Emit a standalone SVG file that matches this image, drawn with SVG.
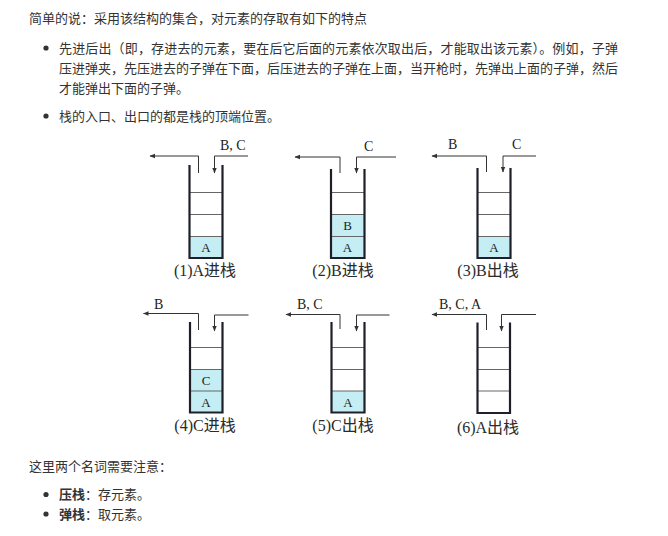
<svg xmlns="http://www.w3.org/2000/svg" width="668" height="536" viewBox="0 0 668 536">
<style>
.t{font-family:"Noto Sans CJK SC","Noto Sans",sans-serif;font-size:13px;fill:#333}
.b{font-weight:bold}
.wall{fill:none;stroke:#1f1f2a;stroke-width:2.2}
.cell{stroke:#666;stroke-width:1}
.fill{fill:#c4eef3}
.arr{fill:none;stroke:#333;stroke-width:1}
.lab{font-family:"Liberation Serif","Noto Sans CJK SC",serif;font-size:14px;fill:#222}
.in{font-family:"Liberation Serif",serif;font-size:13px;fill:#222;text-anchor:middle}
.cap{font-family:"Liberation Serif","Noto Sans CJK SC",serif;font-size:16px;fill:#2a2a2a;text-anchor:middle}
</style>
<defs>
<marker id="ah" markerWidth="6" markerHeight="6" refX="5" refY="3" orient="auto" markerUnits="userSpaceOnUse">
<path d="M0,0.8 L5.5,3 L0,5.2 Z" fill="#333"/>
</marker>
</defs>
<rect width="668" height="536" fill="#fff"/>
<g id="intro">
<text class="t" x="29" y="23">简单的说：采用该结构的集合，对元素的存取有如下的特点</text>
<circle cx="46" cy="48" r="2.6" fill="#333"/>
<text class="t" x="59" y="52.5" textLength="559" lengthAdjust="spacing">先进后出（即，存进去的元素，要在后它后面的元素依次取出后，才能取出该元素）。例如，子弹</text>
<text class="t" x="59" y="73" textLength="559" lengthAdjust="spacing">压进弹夹，先压进去的子弹在下面，后压进去的子弹在上面，当开枪时，先弹出上面的子弹，然后</text>
<text class="t" x="59" y="92.5">才能弹出下面的子弹。</text>
<circle cx="46" cy="116" r="2.6" fill="#333"/>
<text class="t" x="59" y="120.5">栈的入口、出口的都是栈的顶端位置。</text>
</g>
<g id="connectors">
<path class="arr" d="M198.5,173 V156 H150" marker-end="url(#ah)"/>
<path class="arr" d="M248,156 H214.5 V173" marker-end="url(#ah)"/>
<path class="arr" d="M340,173 V157 H295" marker-end="url(#ah)"/>
<path class="arr" d="M396,157 H356.5 V173" marker-end="url(#ah)"/>
<path class="arr" d="M486.5,172 V156 H432" marker-end="url(#ah)"/>
<path class="arr" d="M536,156 H503 V172" marker-end="url(#ah)"/>
<path class="arr" d="M198.5,330 V313.5 H143.5" marker-end="url(#ah)"/>
<path class="arr" d="M248.5,315 H214.5 V331" marker-end="url(#ah)"/>
<path class="arr" d="M340,329 V314.5 H286" marker-end="url(#ah)"/>
<path class="arr" d="M389.5,315 H356.5 V331" marker-end="url(#ah)"/>
<path class="arr" d="M486.5,330 V314.5 H432" marker-end="url(#ah)"/>
<path class="arr" d="M536,314.5 H501.5 V331" marker-end="url(#ah)"/>
</g>
<g id="stack1">
<rect class="fill" x="189.5" y="236.5" width="33" height="21.5"/>
<line class="cell" x1="189.5" y1="192.5" x2="222.5" y2="192.5"/>
<line class="cell" x1="189.5" y1="214.5" x2="222.5" y2="214.5"/>
<line class="cell" x1="189.5" y1="236.5" x2="222.5" y2="236.5"/>
<path class="wall" d="M189.5,165 V258 H222.5 V165"/>
<text class="in" x="206" y="252">A</text>
<text class="lab" x="220" y="150">B, C</text>
<text class="cap" x="205" y="276">(1)A进栈</text>
</g>
<g id="stack2">
<rect class="fill" x="331" y="214.5" width="33.5" height="43.5"/>
<line class="cell" x1="331" y1="192.5" x2="364.5" y2="192.5"/>
<line class="cell" x1="331" y1="214.5" x2="364.5" y2="214.5"/>
<line class="cell" x1="331" y1="236.5" x2="364.5" y2="236.5"/>
<path class="wall" d="M331,169 V258 H364.5 V169"/>
<text class="in" x="347.5" y="230">B</text>
<text class="in" x="347.5" y="252">A</text>
<text class="lab" x="364" y="151">C</text>
<text class="cap" x="343" y="276">(2)B进栈</text>
</g>
<g id="stack3">
<rect class="fill" x="477.5" y="236.5" width="33" height="21.5"/>
<line class="cell" x1="477.5" y1="192.5" x2="510.5" y2="192.5"/>
<line class="cell" x1="477.5" y1="214.5" x2="510.5" y2="214.5"/>
<line class="cell" x1="477.5" y1="236.5" x2="510.5" y2="236.5"/>
<path class="wall" d="M477.5,168 V258 H510.5 V168"/>
<text class="in" x="494" y="252">A</text>
<text class="lab" x="448" y="149">B</text>
<text class="lab" x="512" y="149">C</text>
<text class="cap" x="488" y="276">(3)B出栈</text>
</g>
<g id="stack4">
<rect class="fill" x="190" y="369.5" width="32.5" height="43"/>
<line class="cell" x1="190" y1="347.5" x2="222.5" y2="347.5"/>
<line class="cell" x1="190" y1="369.5" x2="222.5" y2="369.5"/>
<line class="cell" x1="190" y1="391" x2="222.5" y2="391"/>
<path class="wall" d="M190,322 V412.5 H222.5 V322"/>
<text class="in" x="206" y="385">C</text>
<text class="in" x="206" y="406.5">A</text>
<text class="lab" x="154" y="309">B</text>
<text class="cap" x="205" y="431">(4)C进栈</text>
</g>
<g id="stack5">
<rect class="fill" x="331.5" y="391" width="33" height="21.5"/>
<line class="cell" x1="331.5" y1="347.5" x2="364.5" y2="347.5"/>
<line class="cell" x1="331.5" y1="369.5" x2="364.5" y2="369.5"/>
<line class="cell" x1="331.5" y1="391" x2="364.5" y2="391"/>
<path class="wall" d="M331.5,322 V412.5 H364.5 V322"/>
<text class="in" x="348" y="406.5">A</text>
<text class="lab" x="297" y="309">B, C</text>
<text class="cap" x="343" y="431">(5)C出栈</text>
</g>
<g id="stack6">
<line class="cell" x1="477.5" y1="347.5" x2="510" y2="347.5"/>
<line class="cell" x1="477.5" y1="369.5" x2="510" y2="369.5"/>
<line class="cell" x1="477.5" y1="391" x2="510" y2="391"/>
<path class="wall" d="M477.5,322.5 V413 H510 V322.5"/>
<text class="lab" x="439" y="309">B, C, A</text>
<text class="cap" x="488" y="433">(6)A出栈</text>
</g>
<g id="notes">
<text class="t" x="29" y="470.5">这里两个名词需要注意：</text>
<circle cx="46" cy="494.5" r="2.6" fill="#333"/>
<text class="t" x="59" y="499"><tspan class="b">压栈</tspan>：存元素。</text>
<circle cx="46" cy="514" r="2.6" fill="#333"/>
<text class="t" x="59" y="518.5"><tspan class="b">弹栈</tspan>：取元素。</text>
</g>
</svg>
